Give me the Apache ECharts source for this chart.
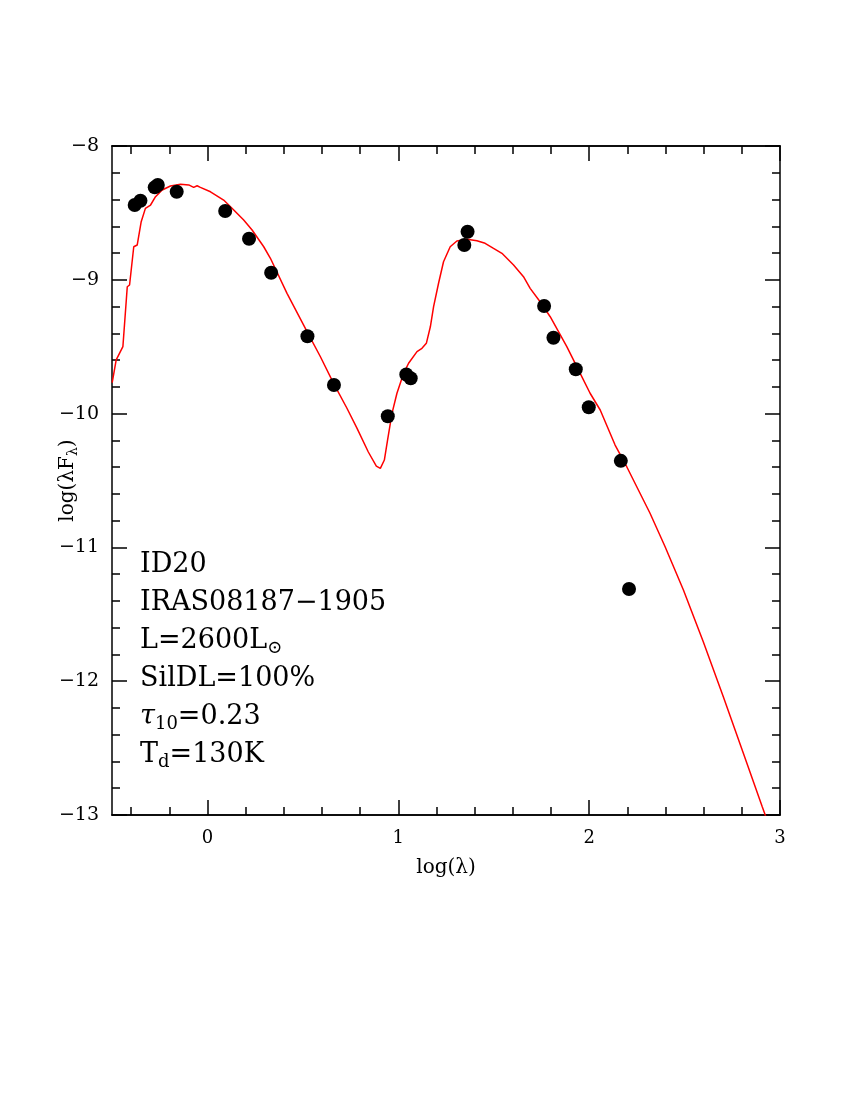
<!DOCTYPE html>
<html>
<head>
<meta charset="utf-8">
<script src="https://cdn.jsdelivr.net/npm/echarts@6/dist/echarts.min.js"></script>
<style>
  html, body { margin: 0; padding: 0; background: #fff; }
  #chart { width: 850px; height: 1100px; }
</style>
</head>
<body>
<div id="chart"></div>
<script>
// observed photometry, [log(lambda), log(lambda F_lambda)]
const obsX = [-0.381, -0.351, -0.276, -0.260, -0.161, 0.093, 0.218, 0.334, 0.524, 0.663,
  0.945, 1.042, 1.065, 1.346, 1.363, 1.764, 1.813, 1.930, 1.998, 2.166, 2.209]
const obsY = [-8.441, -8.409, -8.309, -8.291, -8.342, -8.486, -8.693, -8.947, -9.422, -9.786,
  -10.020, -9.708, -9.736, -8.740, -8.641, -9.196, -9.433, -9.669, -9.953, -10.353, -11.311]

// model SED (red curve)
const modelX = [-0.499, -0.478, -0.443, -0.420, -0.408, -0.386, -0.368, -0.347, -0.325, -0.298,
  -0.272, -0.237, -0.194, -0.141, -0.098, -0.072, -0.054, -0.037, 0.016, 0.085,
  0.138, 0.190, 0.234, 0.295, 0.330, 0.417, 0.522, 0.592, 0.661, 0.731,
  0.784, 0.843, 0.885, 0.906, 0.927, 0.944, 0.967, 0.993, 1.028, 1.054,
  1.098, 1.124, 1.147, 1.168, 1.185, 1.211, 1.237, 1.272, 1.307, 1.360,
  1.412, 1.455, 1.499, 1.543, 1.604, 1.656, 1.691, 1.743, 1.796, 1.883,
  1.953, 2.005, 2.058, 2.136, 2.197, 2.319, 2.398, 2.494, 2.598, 2.703,
  2.808, 2.907, 2.930]
const modelY = [-9.769, -9.599, -9.500, -9.052, -9.039, -8.753, -8.740, -8.566, -8.466, -8.441,
  -8.379, -8.329, -8.299, -8.286, -8.291, -8.309, -8.297, -8.309, -8.342, -8.404,
  -8.478, -8.553, -8.628, -8.753, -8.839, -9.101, -9.388, -9.575, -9.774, -9.960,
  -10.110, -10.287, -10.392, -10.409, -10.347, -10.197, -9.998, -9.848, -9.699, -9.624,
  -9.537, -9.512, -9.475, -9.351, -9.201, -9.026, -8.865, -8.753, -8.710, -8.697,
  -8.708, -8.727, -8.765, -8.802, -8.889, -8.977, -9.064, -9.164, -9.276, -9.500,
  -9.699, -9.848, -9.973, -10.235, -10.397, -10.745, -10.995, -11.318, -11.705, -12.116,
  -12.539, -12.938, -13.030]

const xMajorTicks = [0, 1, 2, 3]
const xMinorTicks = [-0.4, -0.2, 0.2, 0.4, 0.6, 0.8, 1.2, 1.4, 1.6, 1.8, 2.2, 2.4, 2.6, 2.8]

const infoLines = [
  '{m|ID20}',
  '{m|IRAS08187−1905}',
  '{m|L=2600L}{s|⊙}',
  '{m|SilDL=100%}',
  '{mi|τ}{s|10}{m|=0.23}',
  '{m|T}{s|d}{m|=130K}'
]

const FONT = 'DejaVu Serif'
const chart = echarts.init(document.getElementById('chart'))

const axisLineStyle = { color: '#000', width: 1.5 }
const minus = v => String(v).replace('-', '−')

function xAxisDef(pos, ticks, len, labels) {
  return {
    type: 'value', position: pos, min: -0.5, max: 3,
    axisLine: { show: true, onZero: false, lineStyle: axisLineStyle },
    axisTick: { show: true, inside: true, length: len, customValues: ticks, lineStyle: axisLineStyle },
    axisLabel: labels ? {
      show: true, customValues: ticks, margin: 14, formatter: minus,
      fontFamily: FONT, fontSize: 18, color: '#000'
    } : { show: false },
    splitLine: { show: false }
  }
}

function yAxisDef(pos, labels) {
  return {
    type: 'value', position: pos, min: -13, max: -8, interval: 1,
    axisLine: { show: true, onZero: false, lineStyle: axisLineStyle },
    axisTick: { show: true, inside: true, length: 15, lineStyle: axisLineStyle },
    minorTick: { show: true, splitNumber: 5, length: 8, lineStyle: axisLineStyle },
    axisLabel: labels ? {
      show: true, margin: 13, formatter: minus,
      fontFamily: FONT, fontSize: 19, color: '#000'
    } : { show: false },
    splitLine: { show: false }
  }
}

const xAxes = [
  xAxisDef('bottom', xMajorTicks, 15, true),
  xAxisDef('bottom', xMinorTicks, 8, false),
  xAxisDef('top', xMajorTicks, 15, false),
  xAxisDef('top', xMinorTicks, 8, false)
]
xAxes[0].name = 'log(λ)'
xAxes[0].nameLocation = 'middle'
xAxes[0].nameGap = 43
xAxes[0].nameMoveOverlap = false
xAxes[0].nameTextStyle = { fontFamily: FONT, fontSize: 20, color: '#000' }

const yAxes = [yAxisDef('left', true), yAxisDef('right', false)]
yAxes[0].name = '{a|log(λF}{b|λ}{a|)}'
yAxes[0].nameLocation = 'middle'
yAxes[0].nameGap = 32
yAxes[0].nameMoveOverlap = false
yAxes[0].nameTextStyle = {
  color: '#000',
  rich: {
    a: { fontFamily: FONT, fontSize: 20, lineHeight: 22, verticalAlign: 'top', padding: [0, 0, 7, 0], color: '#000' },
    b: { fontFamily: FONT, fontSize: 14, lineHeight: 14, verticalAlign: 'bottom', color: '#000' }
  }
}

const richStyles = {
  m: { fontFamily: FONT, fontSize: 27, lineHeight: 30, verticalAlign: 'top', padding: [0, 0, 9, 0], color: '#000' },
  mi: { fontFamily: FONT, fontStyle: 'italic', fontSize: 27, lineHeight: 30, verticalAlign: 'top', padding: [0, 0, 9, 0], color: '#000' },
  s: { fontFamily: FONT, fontSize: 18, lineHeight: 18, verticalAlign: 'bottom', color: '#000' }
}
const lineCenter = [566, 604, 642, 680, 718, 756]

const option = {
  animation: false,
  backgroundColor: '#fff',
  grid: { left: 112, top: 146, right: 70, bottom: 285, containLabel: false },
  xAxis: xAxes,
  yAxis: yAxes,
  graphic: infoLines.map((t, i) => ({
    type: 'text', left: 140, top: lineCenter[i] - 15, z: 10,
    style: { text: t, rich: richStyles }
  })),
  series: [
    {
      type: 'line', xAxisIndex: 0, yAxisIndex: 0,
      data: modelX.map((x, i) => [x, modelY[i]]),
      showSymbol: false, clip: true,
      lineStyle: { color: '#ff0000', width: 1.5 }, z: 2
    },
    {
      type: 'scatter', xAxisIndex: 0, yAxisIndex: 0,
      data: obsX.map((x, i) => [x, obsY[i]]),
      symbol: 'circle', symbolSize: 14,
      itemStyle: { color: '#000', opacity: 1 }, z: 3
    }
  ]
}
chart.setOption(option)
</script>
</body>
</html>
